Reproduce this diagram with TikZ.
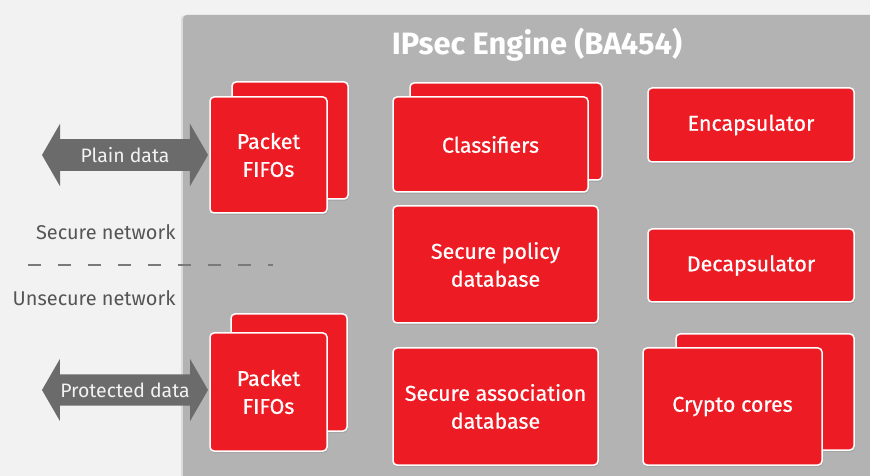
\documentclass[tikz,border=0pt]{standalone}
\usepackage{fontspec}
\setmainfont{Fira Sans}
\newfontfamily\boxfont{Fira Sans}[FakeBold=0.6]
\usepackage{tikz}
\usetikzlibrary{shapes.arrows, shadows, positioning}
\definecolor{pagegray}{HTML}{F2F2F2}
\definecolor{panelgray}{HTML}{B3B3B3}
\definecolor{arrowgray}{HTML}{6B6B6B}
\definecolor{labelgray}{HTML}{555555}
\definecolor{ipred}{HTML}{ED1C24}

\begin{document}
\begin{tikzpicture}[x=1bp, y=-1bp,
		redbox/.style={draw=white, line width=1.5bp, fill=ipred, rounded corners=4bp,
			text=white, align=center, font=\boxfont\fontsize{21.5}{28}\selectfont,
			drop shadow={opacity=0.25, shadow xshift=1bp, shadow yshift=-2bp}},
		dataarrow/.style={double arrow, fill=arrowgray, text=pagegray, minimum height=166bp,
			double arrow head extend=15.5bp, double arrow tip angle=120, inner ysep=8bp,
			font=\fontsize{19.5}{22}\selectfont},
		netlabel/.style={anchor=east, text=labelgray, font=\fontsize{20}{24}\selectfont}]
		\useasboundingbox[fill=pagegray] (0,0) rectangle (870,476);
		
		% engine panel
		\fill[panelgray, drop shadow={opacity=0.2, shadow xshift=-2bp, shadow yshift=0bp}]
			(183,480) -- (183,19) [rounded corners=4bp] -- (183,15) -- (880,15) [sharp corners] -- (880,480) -- cycle;
		\node[text=white, font=\fontsize{31}{36}\bfseries\selectfont] (title) at (537,45) {IPsec Engine (BA454)};
		
		% network side
		\node[netlabel] (secnet) at (179,232) {Secure network};
		\node[netlabel] (unsecnet) at (179,298) {Unsecure network};
		\draw[arrowgray!90, line width=1.3bp, dash pattern=on 13bp off 17bp] (28,265) -- (273,265);
		
		% packet FIFOs
		\node[redbox, minimum width=116bp, minimum height=117bp] (fifoTopBack) at (290,140.5) {};
		\node[redbox, minimum width=117bp, minimum height=116bp] (fifoTop) at (268.5,155) {Packet\\FIFOs};
		\node[redbox, minimum width=116bp, minimum height=117bp] (fifoBotBack) at (289,372.5) {};
		\node[redbox, minimum width=117bp, minimum height=118bp] (fifoBot) at (268.5,392) {Packet\\FIFOs};
		
		\node[dataarrow] (plain) at (125,155) {Plain data};
		\node[dataarrow] (protected) at (125,390) {Protected data};
		
		% middle column
		\node[redbox, minimum width=192bp, minimum height=97bp] (classBack) at (506,131.5) {};
		\node[redbox, minimum width=195bp, minimum height=95bp] (classif) at (490.5,144.5) {Classifiers};
		\node[redbox, minimum width=205bp, minimum height=117bp] (spd) at (495.5,264.5) {Secure policy\\database};
		\node[redbox, minimum width=205bp, minimum height=117bp] (sad) at (495.5,406.5) {Secure association\\database};
		
		% right column
		\node[redbox, minimum width=206bp, minimum height=74bp] (encap) at (751,125) {Encapsulator};
		\node[redbox, minimum width=206bp, minimum height=73bp] (decap) at (751,265.5) {Decapsulator};
		\node[redbox, minimum width=178bp, minimum height=116bp] (cryptoBack) at (765,392) {};
		\node[redbox, minimum width=179bp, minimum height=117bp] (crypto) at (732.5,406.5) {Crypto cores};
		\end{tikzpicture}
\end{document}
